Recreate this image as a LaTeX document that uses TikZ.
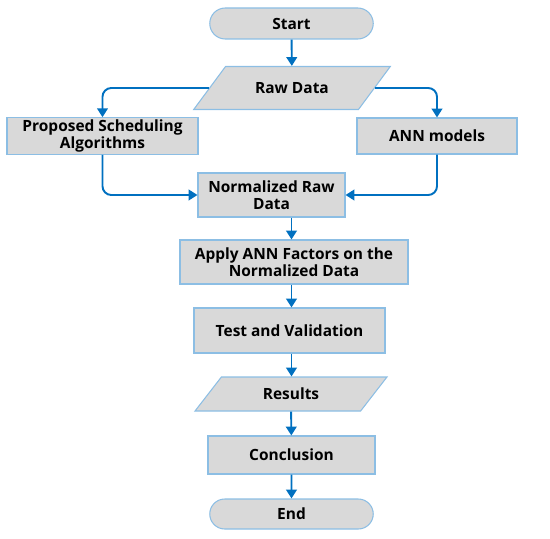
\documentclass[tikz,border=0pt]{standalone}
\usepackage{fontspec}
\setmainfont{Open Sans}
\usepackage{tikz}
\usetikzlibrary{positioning,arrows.meta,calc,shapes.geometric,shapes.misc}
\definecolor{boxfill}{RGB}{217,217,217}
\definecolor{boxedge}{RGB}{140,190,228}
\definecolor{flowblue}{RGB}{0,112,192}
\tikzset{
  proc/.style={draw=boxedge,fill=boxfill,line width=0.6pt,font=\bfseries\fontsize{8.8}{10}\selectfont,align=center,inner sep=1pt},
  term/.style={proc,rounded rectangle},
  io/.style={proc,trapezium,trapezium stretches=true},
  flow/.style={draw=flowblue,line width=1.1pt,-{Triangle[length=5pt,width=6pt]},rounded corners=5pt}
}
\begin{document}
\begin{tikzpicture}
\useasboundingbox (0,0) rectangle (11,10.76);
\node[term,minimum width=3.34cm,minimum height=0.62cm] (start) at (5.83,10.29) {Start};
\node[io,trapezium left angle=38.5,trapezium right angle=141.5,minimum width=3.96cm,minimum height=0.86cm] (raw) at (5.84,9.00) {Raw Data};
\node[proc,minimum width=3.82cm,minimum height=0.72cm] (sched) at (2.05,8.04) {Proposed Scheduling\\Algorithms};
\node[proc,minimum width=3.2cm,minimum height=0.72cm] (ann) at (8.74,8.04) {ANN models};
\node[proc,minimum width=2.94cm,minimum height=0.88cm] (norm) at (5.43,6.86) {Normalized Raw\\Data};
\node[proc,minimum width=4.56cm,minimum height=0.88cm] (apply) at (5.88,5.52) {Apply ANN Factors on the\\Normalized Data};
\node[proc,minimum width=3.82cm,minimum height=0.9cm] (test) at (5.79,4.15) {Test and Validation};
\node[io,trapezium left angle=53.7,trapezium right angle=126.3,minimum width=3.84cm,minimum height=0.68cm] (res) at (5.82,2.88) {Results};
\node[proc,minimum width=3.34cm,minimum height=0.76cm] (concl) at (5.83,1.66) {Conclusion};
\node[term,minimum width=3.34cm,minimum height=0.6cm] (end) at (5.83,0.48) {End};

\draw[flow] (start) -- (raw);
\draw[flow] (raw.west) -| (sched.north);
\draw[flow] (raw.east) -| (ann.north);
\draw[flow] (sched.south) |- (norm.west);
\draw[flow] (ann.south) |- (norm.east);
\draw[flow] (norm.south -| start.south) -- (apply.north -| start.south);
\draw[flow] (apply.south -| start.south) -- (test.north -| start.south);
\draw[flow] (test.south -| start.south) -- (res.north -| start.south);
\draw[flow] (res) -- (concl);
\draw[flow] (concl) -- (end);
\end{tikzpicture}
\end{document}
